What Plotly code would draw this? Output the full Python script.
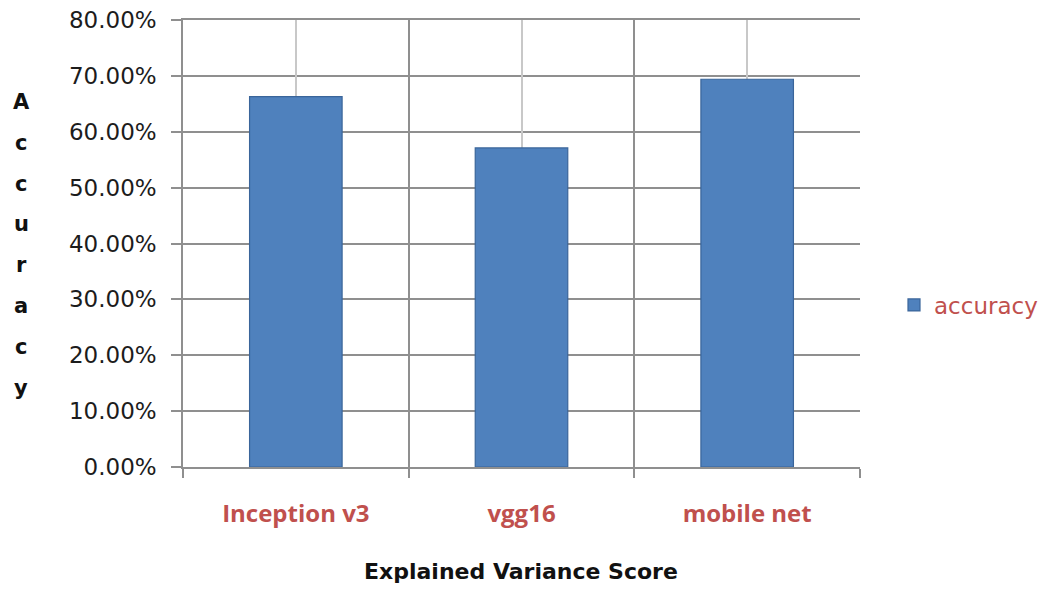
import plotly.graph_objects as go

# Model accuracy by network
models = ["Inception v3", "vgg16", "mobile net"]
accuracy = [0.663, 0.571, 0.694]
series_name = "accuracy"
y_ticks = [0.0, 0.1, 0.2, 0.3, 0.4, 0.5, 0.6, 0.7, 0.8]
x_title = "Explained Variance Score"
y_title = "Accuracy"

BAR = "#4F81BD"
BAR_EDGE = "#3A659A"
RED = "#C0504D"
GRID = "#8F8F8F"
LIGHT_GRID = "#C8C8C8"
TEXT = "#1C1C1C"

W, H = 1049, 590
L, R, T, B = 183, 189, 20, 123

fig = go.Figure()
fig.add_trace(go.Bar(
    x=models, y=accuracy, name=series_name,
    marker=dict(color=BAR, line=dict(color=BAR_EDGE, width=1.2)),
    showlegend=True,
))

fig.update_layout(
    width=W, height=H,
    margin=dict(l=L, r=R, t=T, b=B, pad=0, autoexpand=False),
    paper_bgcolor="white", plot_bgcolor="white",
    bargap=0.59,
    showlegend=True,
    legend=dict(
        x=(894 - L) / (W - L - R), y=(H - B - 305) / (H - B - T),
        xanchor="left", yanchor="middle",
        font=dict(family="DejaVu Sans", size=23, color=RED),
        bgcolor="rgba(0,0,0,0)", itemwidth=30,
    ),
    xaxis=dict(
        type="category",
        tickson="boundaries",
        showgrid=True, gridcolor=GRID, gridwidth=1.5,
        showline=True, linecolor=GRID, linewidth=1.5, mirror=True,
        ticks="outside", ticklen=9, tickcolor=GRID, tickwidth=1.5,
        tickfont=dict(family="Open Sans", size=24, color=RED, weight="bold"),
        ticklabelstandoff=24,
        range=[-0.5, 2.5],
        zeroline=False,
    ),
    # light lines through category centres
    xaxis2=dict(
        overlaying="x", type="linear", range=[-0.5, 2.5],
        tickvals=[0, 1, 2], showticklabels=False,
        showgrid=True, gridcolor=LIGHT_GRID, gridwidth=1.5,
        showline=False, ticks="", zeroline=False,
        layer="below traces",
    ),
    yaxis=dict(
        range=[0, 0.8],
        tickvals=y_ticks, tickformat=".2%",
        showgrid=True, gridcolor=GRID, gridwidth=1.5,
        showline=True, linecolor=GRID, linewidth=1.5,
        ticks="outside", ticklen=10, tickcolor=GRID, tickwidth=1.5,
        tickfont=dict(family="DejaVu Sans", size=23, color=TEXT),
        ticklabelstandoff=10,
        zeroline=False,
    ),
)

# invisible trace to activate the centre-line axis
fig.add_trace(go.Scatter(x=[0], y=[0], xaxis="x2", mode="markers",
                         marker=dict(opacity=0), showlegend=False, hoverinfo="skip"))

plot_h = H - B - T
plot_w = W - L - R

fig.add_annotation(
    text=x_title, xref="paper", yref="paper",
    x=(521 - L) / plot_w, y=(H - B - 571) / plot_h,
    xanchor="center", yanchor="middle", showarrow=False,
    font=dict(family="DejaVu Sans", size=22, color="#111111", weight="bold"),
)

# vertical stacked axis title
letter_y0, letter_step = 102, 40.8
for i, ch in enumerate(y_title):
    fig.add_annotation(
        text=ch, xref="paper", yref="paper",
        x=(21 - L) / plot_w, y=(H - B - (letter_y0 + i * letter_step)) / plot_h,
        xanchor="center", yanchor="middle", showarrow=False,
        font=dict(family="DejaVu Sans", size=21, color="#111111", weight="bold"),
    )

fig.write_html("out.html")
